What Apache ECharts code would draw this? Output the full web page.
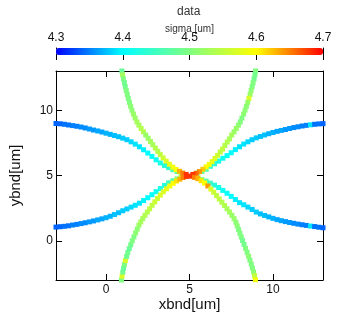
<!DOCTYPE html>
<html>
<head>
<meta charset="utf-8">
<script src="https://cdn.jsdelivr.net/npm/echarts@6/dist/echarts.min.js"></script>
<style>
html,body{margin:0;padding:0;background:#fff;}
#c{width:345px;height:316px;}
</style>
</head>
<body>
<div id="c"></div>
<script>
// ---- data: [x, y, sigma] ----
const blueUpperLeft = [
[-3,8.98,4.34],[-2.75,8.96,4.34],[-2.5,8.92,4.345],[-2.25,8.87,4.345],[-2,8.82,4.35],
[-1.75,8.77,4.35],[-1.5,8.71,4.355],[-1.25,8.64,4.355],[-1,8.56,4.36],[-0.75,8.48,4.36],
[-0.5,8.41,4.365],[-0.25,8.33,4.365],[0,8.24,4.37],[0.25,8.15,4.37],[0.5,8.06,4.375],
[0.75,7.97,4.375],[1,7.86,4.38],[1.25,7.74,4.38],[1.5,7.58,4.385],[1.75,7.4,4.39],
[2,7.2,4.39],[2.25,6.97,4.395],[2.5,6.72,4.4],[2.75,6.46,4.405],[3,6.2,4.41],
[3.25,5.96,4.42],[3.5,5.76,4.43],[3.75,5.6,4.44],[4,5.44,4.46],[4.25,5.3,4.48],
[4.5,5.18,4.52],[4.75,5.08,4.57]
];
const blueUpperRight = [
[5.25,5.09,4.57],[5.5,5.19,4.52],[5.75,5.31,4.48],[6,5.48,4.46],[6.25,5.7,4.44],
[6.5,5.9,4.43],[6.75,6.1,4.42],[7,6.32,4.41],[7.25,6.52,4.405],[7.5,6.74,4.4],
[7.75,6.98,4.395],[8,7.2,4.39],[8.25,7.41,4.39],[8.5,7.58,4.385],[8.75,7.74,4.38],
[9,7.88,4.38],[9.25,7.99,4.375],[9.5,8.1,4.375],[9.75,8.2,4.37],[10,8.29,4.37],
[10.25,8.38,4.365],[10.5,8.45,4.365],[10.75,8.52,4.36],[11,8.6,4.36],[11.25,8.67,4.355],
[11.5,8.73,4.355],[11.75,8.79,4.35],[12,8.84,4.35],[12.25,8.88,4.39],[12.5,8.92,4.345],
[12.75,8.95,4.345],[13,8.97,4.34]
];
const blueLowerLeft = [
[-3,1.05,4.34],[-2.75,1.08,4.34],[-2.5,1.11,4.345],[-2.25,1.15,4.345],[-2,1.21,4.35],
[-1.75,1.26,4.35],[-1.5,1.32,4.355],[-1.25,1.38,4.355],[-1,1.45,4.36],[-0.75,1.52,4.36],
[-0.5,1.6,4.365],[-0.25,1.68,4.365],[0,1.77,4.37],[0.25,1.88,4.37],[0.5,2.01,4.375],
[0.75,2.15,4.375],[1,2.3,4.38],[1.25,2.44,4.38],[1.5,2.58,4.385],[1.75,2.72,4.39],
[2,2.88,4.39],[2.25,3.08,4.395],[2.5,3.3,4.4],[2.75,3.53,4.405],[3,3.76,4.41],
[3.25,4.0,4.42],[3.5,4.24,4.43],[3.75,4.44,4.45],[4,4.6,4.47],[4.25,4.74,4.5],
[4.5,4.87,4.55],[4.75,4.95,4.6]
];
const blueLowerRight = [
[5.25,4.92,4.6],[5.5,4.8,4.54],[5.75,4.68,4.5],[6,4.57,4.47],[6.25,4.42,4.45],
[6.5,4.26,4.43],[6.75,4.08,4.42],[7,3.86,4.41],[7.25,3.64,4.405],[7.5,3.4,4.4],
[7.75,3.16,4.395],[8,2.92,4.39],[8.25,2.76,4.39],[8.5,2.58,4.385],[8.75,2.4,4.38],
[9,2.2,4.38],[9.25,2.06,4.375],[9.5,1.94,4.375],[9.75,1.83,4.37],[10,1.72,4.37],
[10.25,1.62,4.365],[10.5,1.54,4.365],[10.75,1.47,4.36],[11,1.4,4.36],[11.25,1.34,4.355],
[11.5,1.28,4.355],[11.75,1.23,4.35],[12,1.18,4.35],[12.25,1.13,4.39],[12.5,1.09,4.345],
[12.75,1.04,4.345],[13,1.0,4.34]
];
const greenUpperLeft = [
[0.95,13.0,4.48],[0.99,12.7,4.53],[1.04,12.4,4.5],[1.1,12.1,4.49],[1.15,11.8,4.49],
[1.21,11.5,4.5],[1.27,11.2,4.5],[1.33,10.9,4.5],[1.4,10.6,4.5],[1.47,10.3,4.51],
[1.55,10.0,4.51],[1.64,9.7,4.52],[1.74,9.4,4.52],[1.85,9.1,4.53],[1.97,8.85,4.53],
[2.1,8.6,4.54],[2.24,8.35,4.54],[2.38,8.1,4.52],[2.52,7.85,4.52],[2.66,7.6,4.53],
[2.8,7.36,4.53],[2.95,7.1,4.54],[3.1,6.85,4.54],[3.25,6.6,4.55],[3.42,6.35,4.56],
[3.6,6.1,4.57],[3.8,5.86,4.58],[4.0,5.64,4.59],[4.2,5.46,4.6],[4.4,5.32,4.63],
[4.6,5.18,4.65],[4.8,5.08,4.68]
];
const greenUpperRight = [
[8.96,13.0,4.5],[8.92,12.7,4.49],[8.87,12.4,4.49],[8.81,12.1,4.5],[8.75,11.8,4.5],
[8.69,11.5,4.51],[8.63,11.2,4.52],[8.56,10.9,4.57],[8.49,10.6,4.52],[8.41,10.3,4.51],
[8.33,10.0,4.51],[8.24,9.7,4.51],[8.14,9.4,4.5],[8.04,9.1,4.5],[7.93,8.85,4.51],
[7.8,8.6,4.52],[7.67,8.35,4.52],[7.53,8.1,4.53],[7.39,7.8,4.53],[7.26,7.56,4.54],
[7.12,7.3,4.54],[6.98,7.02,4.55],[6.84,6.8,4.55],[6.68,6.54,4.56],[6.52,6.3,4.57],
[6.35,6.06,4.58],[6.18,5.85,4.59],[6.0,5.66,4.6],[5.8,5.48,4.62],[5.6,5.3,4.64],
[5.4,5.17,4.66],[5.2,5.08,4.68]
];
const greenLowerLeft = [
[0.92,-3.0,4.5],[0.96,-2.7,4.57],[1.0,-2.4,4.49],[1.05,-2.1,4.48],[1.1,-1.8,4.5],
[1.16,-1.5,4.57],[1.23,-1.2,4.49],[1.3,-0.9,4.49],[1.39,-0.6,4.48],[1.48,-0.3,4.49],
[1.57,0.0,4.5],[1.67,0.3,4.5],[1.77,0.6,4.51],[1.87,0.9,4.51],[1.97,1.2,4.52],
[2.08,1.45,4.53],[2.2,1.7,4.53],[2.33,1.95,4.54],[2.47,2.2,4.54],[2.61,2.45,4.55],
[2.76,2.72,4.55],[2.92,2.98,4.56],[3.08,3.24,4.56],[3.25,3.5,4.57],[3.43,3.75,4.57],
[3.62,3.98,4.58],[3.82,4.2,4.59],[4.02,4.4,4.6],[4.22,4.58,4.61],[4.42,4.72,4.63],
[4.62,4.85,4.65],[4.82,4.93,4.68]
];
const greenLowerRight = [
[5.1,4.95,4.68],[5.3,4.86,4.65],[5.5,4.76,4.63],[5.7,4.6,4.61],[5.9,4.42,4.6],
[6.1,4.2,4.64],[6.28,3.96,4.57],[6.45,3.72,4.56],[6.62,3.46,4.55],[6.78,3.2,4.55],
[6.94,2.95,4.54],[7.1,2.7,4.54],[7.25,2.45,4.53],[7.4,2.2,4.53],[7.54,1.95,4.52],
[7.67,1.7,4.52],[7.78,1.42,4.51],[7.86,1.14,4.51],[7.94,0.86,4.5],[8.02,0.58,4.5],
[8.1,0.3,4.5],[8.18,0.02,4.49],[8.27,-0.28,4.49],[8.36,-0.58,4.5],[8.45,-0.88,4.5],
[8.54,-1.18,4.51],[8.62,-1.48,4.5],[8.7,-1.78,4.5],[8.77,-2.08,4.5],[8.84,-2.38,4.51],
[8.9,-2.68,4.55],[8.95,-2.98,4.59]
];
const branches = [blueUpperLeft, blueUpperRight, blueLowerLeft, blueLowerRight,
                  greenUpperLeft, greenUpperRight, greenLowerLeft, greenLowerRight];

const xTicks = [0, 5, 10];
const yTicks = [0, 5, 10];
const sigmaMin = 4.3, sigmaMax = 4.7, sigmaStep = 0.1;
const jetColors = ['#0000ff', '#00ffff', '#80ff80', '#ffff00', '#ff0000'];

const FONT = 'Liberation Sans, Arial, sans-serif';
const chart = echarts.init(document.getElementById('c'), null, {renderer: 'canvas'});

const lineStyle = {color: '#000', width: 1};
const baseAxis = {
  type: 'value', min: -3, max: 13,
  splitLine: {show: false},
  axisLine: {show: true, onZero: false, lineStyle: lineStyle}
};

chart.setOption({
  animation: false,
  backgroundColor: '#fff',
  title: {
    text: 'data', left: 177, top: 6, padding: 0,
    textStyle: {fontSize: 12, fontWeight: 'normal', color: '#333', fontFamily: FONT}
  },
  grid: [
    {left: 56, top: 71, width: 267, height: 209, containLabel: false, outerBoundsMode: 'none'},
    {left: 56, top: 48, width: 267, height: 7, containLabel: false, outerBoundsMode: 'none'}
  ],
  visualMap: {
    type: 'continuous', min: sigmaMin, max: sigmaMax, dimension: 2,
    seriesIndex: [0,1,2,3,4,5,6,7],
    orient: 'horizontal', left: 56, top: 48, itemWidth: 7, itemHeight: 267,
    padding: 0, calculable: false, hoverLink: false, text: null,
    inRange: {color: jetColors}
  },
  xAxis: [
    Object.assign({}, baseAxis, {
      gridIndex: 0, position: 'bottom',
      axisTick: {show: true, inside: true, length: 6, lineStyle: lineStyle, customValues: xTicks},
      axisLabel: {show: true, margin: 4, fontSize: 12, color: '#111', fontFamily: FONT, customValues: xTicks},
      name: 'xbnd[um]', nameLocation: 'middle', nameGap: 17, nameMoveOverlap: false,
      nameTextStyle: {fontSize: 15, color: '#111', fontFamily: FONT}
    }),
    Object.assign({}, baseAxis, {
      gridIndex: 0, position: 'top',
      axisTick: {show: true, inside: true, length: 6, lineStyle: lineStyle, customValues: xTicks},
      axisLabel: {show: false}
    }),
    {
      type: 'value', gridIndex: 1, position: 'top',
      min: sigmaMin, max: sigmaMax, interval: sigmaStep,
      splitLine: {show: false},
      axisLine: {show: false},
      axisTick: {show: true, inside: true, length: 5, lineStyle: lineStyle},
      axisLabel: {show: true, margin: 4, fontSize: 12, color: '#111', fontFamily: FONT,
        formatter: v => v.toFixed(1)},
      name: 'sigma [um]', nameLocation: 'middle', nameGap: 14, nameMoveOverlap: false,
      nameTextStyle: {fontSize: 10, color: '#333', fontFamily: FONT}
    }
  ],
  yAxis: [
    Object.assign({}, baseAxis, {
      gridIndex: 0, position: 'left',
      axisTick: {show: true, inside: true, length: 6, lineStyle: lineStyle, customValues: yTicks},
      axisLabel: {show: true, margin: 3, fontSize: 12, color: '#111', fontFamily: FONT, customValues: yTicks},
      name: 'ybnd[um]', nameLocation: 'middle', nameGap: 33, nameRotate: 90, nameMoveOverlap: false,
      nameTextStyle: {fontSize: 15, color: '#111', fontFamily: FONT}
    }),
    Object.assign({}, baseAxis, {
      gridIndex: 0, position: 'right',
      axisTick: {show: true, inside: true, length: 6, lineStyle: lineStyle, customValues: yTicks},
      axisLabel: {show: false}
    }),
    {type: 'value', gridIndex: 1, position: 'left', min: 0, max: 1,
     splitLine: {show: false}, axisTick: {show: false}, axisLabel: {show: false},
     axisLine: {show: true, lineStyle: lineStyle}},
    {type: 'value', gridIndex: 1, position: 'right', min: 0, max: 1,
     splitLine: {show: false}, axisTick: {show: false}, axisLabel: {show: false},
     axisLine: {show: true, lineStyle: lineStyle}}
  ],
  series: branches.map(b => ({
    type: 'scatter', xAxisIndex: 0, yAxisIndex: 0,
    symbol: 'rect', symbolSize: 5, clip: false,
    data: b, itemStyle: {opacity: 1},
    emphasis: {disabled: true}, silent: true
  }))
});
</script>
</body>
</html>
